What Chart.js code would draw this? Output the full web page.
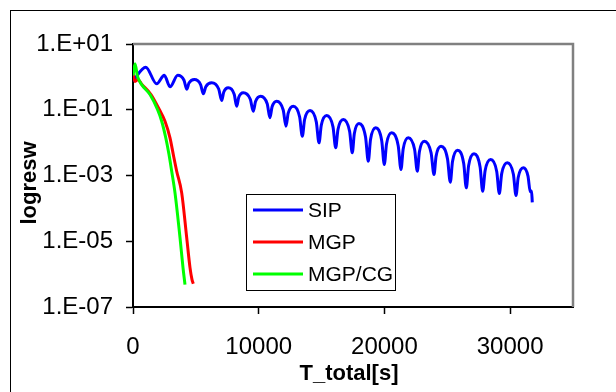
<!DOCTYPE html>
<html>
<head>
<meta charset="utf-8">
<script src="https://cdn.jsdelivr.net/npm/chart.js@4.4.0/dist/chart.umd.min.js"></script>
<style>
  html, body { margin: 0; padding: 0; background: #fff; overflow: hidden; }
  #wrap { position: relative; width: 616px; height: 392px; }
  #frame { position: absolute; left: 10px; top: 10px; width: 700px; height: 500px; border: 1px solid #000; pointer-events: none; }
  canvas { position: absolute; left: 0; top: 0; }
</style>
</head>
<body>
<div id="wrap">
  <canvas id="chart" width="616" height="392"></canvas>
  <div id="frame"></div>
</div>
<script>
// --- datos ---
const sipX = [0, 1010, 1885, 2490, 2943, 3556, 4057, 4272, 4453, 4876,
  5377, 5592, 5792, 6260, 6817, 7056, 7214, 7581, 8049, 8249,
  8407, 8774, 9330, 9569, 9746, 10158, 10676, 10898, 11058, 11431,
  11949, 12171, 12345, 12751, 13252, 13467, 13651, 14080, 14580, 14795,
  14979, 15408, 15909, 16124, 16305, 16728, 17229, 17444, 17604, 17977,
  18495, 18717, 18894, 19306, 19785, 19990, 20167, 20579, 21096, 21318,
  21492, 21899, 22400, 22615, 22782, 23172, 23712, 23943, 24110, 24500,
  25018, 25240, 25416, 25828, 26307, 26512, 26696, 27125, 27609, 27817,
  28008, 28453, 28932, 29137, 29328, 29774, 30258, 30466, 30640, 31047,
  31420, 31600, 31700, 31762];
const sipY = [0.75, 1.97, 0.615, 1.12, 0.50, 1.12, 0.79, 0.42, 0.65, 0.83,
  0.585, 0.305, 0.503, 0.66, 0.428, 0.191, 0.340, 0.465, 0.296, 0.128,
  0.236, 0.327, 0.208, 0.090, 0.178, 0.258, 0.152, 0.0568, 0.121, 0.182,
  0.0984, 0.0316, 0.0784, 0.128, 0.0612, 0.0156, 0.0504, 0.0946, 0.0429, 0.00984,
  0.0341, 0.0667, 0.0302, 0.00693, 0.0252, 0.0504, 0.0222, 0.00489, 0.0186, 0.0381,
  0.0151, 0.00271, 0.0124, 0.0282, 0.01146, 0.00215, 0.00912, 0.0199, 0.00807, 0.00152,
  0.00643, 0.0140, 0.00615, 0.00135, 0.00527, 0.0110, 0.00486, 0.00107, 0.00388, 0.00776,
  0.00321, 0.000622, 0.00267, 0.00586, 0.00233, 0.000421, 0.00198, 0.00456, 0.00182, 0.000331,
  0.00140, 0.00305, 0.00133, 0.000282, 0.00114, 0.00243, 0.00109, 0.000245, 0.000865, 0.00171,
  0.00096, 0.00032, 0.00034, 0.000153];

const mgpX = [0, 159, 398, 676, 1432, 2092, 2545, 2943, 3206, 3476, 3874, 4272, 4534, 4693, 4797];
const mgpY = [1.26, 0.72, 0.83, 0.61, 0.29, 0.1016, 0.0448, 0.01397, 0.00434, 0.00135, 0.000296, 1.29e-5, 1.58e-6, 6.8e-7, 5.1e-7];

const cgX = [0, 159, 358, 676, 1352, 1949, 2283, 2601, 2864, 3078, 3341, 3739, 3977, 4136];
const cgY = [1.1, 2.5, 1.03, 0.59, 0.29, 0.1016, 0.0448, 0.0143, 0.00434, 0.00135, 0.000296, 1.29e-5, 1.58e-6, 4.8e-7];

const seriesNames = ['SIP', 'MGP', 'MGP/CG'];
const seriesColors = ['#0000FF', '#FF0000', '#00FF00'];

const xTicks = [0, 10000, 20000, 30000];
const xTickLabels = ['0', '10000', '20000', '30000'];
const yTicks = [1e-7, 1e-5, 1e-3, 1e-1, 10];
const yTickLabels = ['1.E-07', '1.E-05', '1.E-03', '1.E-01', '1.E+01'];

const xTitle = 'T_total[s]';
const yTitle = 'logresw';

const FONT = "'Liberation Sans', Arial, sans-serif";
Chart.defaults.font.family = FONT;
Chart.defaults.color = '#000';

function toPoints(xs, ys) {
    return xs.map((x, i) => ({ x: x, y: ys[i] }));
}

// marco gris arriba y a la derecha del area de trazado
const plotFrame = {
    id: 'plotFrame',
    beforeDatasetsDraw(chart) {
        const { ctx, chartArea: a } = chart;
        ctx.save();
        ctx.strokeStyle = '#808080';
        ctx.lineWidth = 2.5;
        ctx.beginPath();
        ctx.moveTo(a.left, a.top);
        ctx.lineTo(a.right, a.top);
        ctx.lineTo(a.right, a.bottom);
        ctx.stroke();
        ctx.restore();
    }
};

// titulos de ejes (posicion como en la figura original)
const axisTitles = {
    id: 'axisTitles',
    afterDraw(chart) {
        const { ctx } = chart;
        ctx.save();
        ctx.fillStyle = '#000';
        ctx.font = 'bold 22px ' + FONT;
        ctx.textAlign = 'center';
        ctx.textBaseline = 'middle';
        ctx.fillText(xTitle, 349, 374);
        ctx.translate(30, 183);
        ctx.rotate(-Math.PI / 2);
        ctx.fillText(yTitle, 0, 0);
        ctx.restore();
    }
};

// leyenda dentro del area de trazado
const legendBox = {
    id: 'legendBox',
    afterDatasetsDraw(chart) {
        const { ctx, chartArea: a } = chart;
        const x0 = a.left + 113, y0 = a.top + 150, w = 149, h = 96;
        ctx.save();
        ctx.fillStyle = '#fff';
        ctx.fillRect(x0, y0, w, h);
        ctx.strokeStyle = '#000';
        ctx.lineWidth = 1;
        ctx.strokeRect(x0 + 0.5, y0 + 0.5, w, h);
        chart.data.datasets.forEach((ds, i) => {
            const y = y0 + 16 + i * 32;
            ctx.strokeStyle = ds.borderColor;
            ctx.lineWidth = 3;
            ctx.beginPath();
            ctx.moveTo(x0 + 7, y);
            ctx.lineTo(x0 + 57, y);
            ctx.stroke();
            ctx.fillStyle = '#000';
            ctx.font = '21px ' + FONT;
            ctx.textBaseline = 'middle';
            ctx.textAlign = 'left';
            ctx.fillText(ds.label, x0 + 62, y + 1);
        });
        ctx.restore();
    }
};

const ctx = document.getElementById('chart').getContext('2d');
new Chart(ctx, {
    type: 'line',
    data: {
        datasets: [
            { label: seriesNames[0], data: toPoints(sipX, sipY), borderColor: seriesColors[0], order: 3 },
            { label: seriesNames[1], data: toPoints(mgpX, mgpY), borderColor: seriesColors[1], order: 2 },
            { label: seriesNames[2], data: toPoints(cgX, cgY), borderColor: seriesColors[2], order: 1 }
        ]
    },
    options: {
        responsive: false,
        animation: false,
        layout: { padding: { left: 0, top: 44, right: 43, bottom: 0 } },
        elements: {
            line: { borderWidth: 3, cubicInterpolationMode: 'monotone', fill: false },
            point: { radius: 0 }
        },
        plugins: {
            legend: { display: false },
            tooltip: { enabled: false }
        },
        scales: {
            x: {
                type: 'linear',
                min: 0,
                max: 35000,
                afterBuildTicks: s => { s.ticks = xTicks.map(v => ({ value: v })); },
                afterFit: s => { s.height = 85; },
                ticks: {
                    font: { size: 24 },
                    padding: 19,
                    maxRotation: 0,
                    callback: (v, i) => xTickLabels[i]
                },
                grid: { drawOnChartArea: false, tickLength: 7, tickColor: '#000', tickWidth: 1.5 },
                border: { color: '#000', width: 2 }
            },
            y: {
                type: 'logarithmic',
                min: 1e-7,
                max: 10,
                afterBuildTicks: s => { s.ticks = yTicks.map(v => ({ value: v })); },
                afterFit: s => { s.width = 133; },
                ticks: {
                    font: { size: 24 },
                    padding: 13,
                    callback: (v, i) => yTickLabels[i]
                },
                grid: { drawOnChartArea: false, tickLength: 7, tickColor: '#000', tickWidth: 1.5 },
                border: { color: '#000', width: 2 }
            }
        }
    },
    plugins: [plotFrame, legendBox, axisTitles]
});
</script>
</body>
</html>
